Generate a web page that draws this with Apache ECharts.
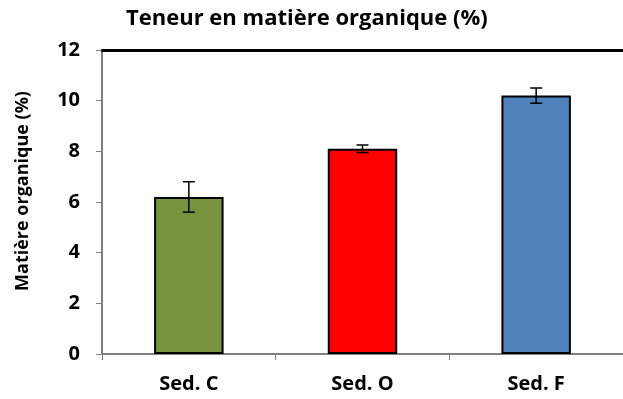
<!DOCTYPE html>
<html>
<head>
<meta charset="utf-8">
<script src="https://cdn.jsdelivr.net/npm/echarts@6/dist/echarts.min.js"></script>
<style>
  html, body { margin: 0; padding: 0; background: #fff; }
  #chart { width: 623px; height: 399px; }
</style>
</head>
<body>
<div id="chart"></div>
<script>
// Organic matter content per sediment, with standard deviations
const categories = ['Sed. C', 'Sed. O', 'Sed. F'];
const values = [6.2, 8.1, 10.2];
const errors = [0.6, 0.15, 0.3];
const barColors = ['#77933C', '#FF0000', '#4F81BD'];
const yTicks = { min: 0, max: 12, interval: 2 };

const FONT = '"Open Sans", "Liberation Sans", sans-serif';

const chart = echarts.init(document.getElementById('chart'));

const errorData = categories.map((c, i) => [i, values[i] - errors[i], values[i] + errors[i]]);

chart.setOption({
  animation: false,
  title: {
    text: 'Teneur en matière organique (%)',
    left: 121,
    top: 3,
    textStyle: { fontFamily: FONT, fontWeight: 'bold', fontSize: 22, color: '#000' }
  },
  grid: { left: 102, right: -8, top: 50, bottom: 45, containLabel: false },
  xAxis: [{
    type: 'category',
    data: categories,
    boundaryGap: true,
    axisLine: { lineStyle: { color: '#808080', width: 2 } },
    axisTick: { show: true, length: 6, lineStyle: { color: '#808080', width: 1 } },
    axisLabel: { margin: 20, color: '#000', fontFamily: FONT, fontWeight: 'bold', fontSize: 20 },
    splitLine: { show: false }
  }, {
    type: 'category',
    data: categories,
    position: 'top',
    axisLine: { lineStyle: { color: '#000', width: 3 } },
    axisTick: { show: false },
    axisLabel: { show: false }
  }],
  yAxis: {
    type: 'value',
    min: yTicks.min,
    max: yTicks.max,
    interval: yTicks.interval,
    name: 'Matière organique (%)',
    nameLocation: 'middle',
    nameGap: 70,
    nameTextStyle: { fontFamily: FONT, fontWeight: 'bold', fontSize: 18, color: '#000', padding: [0, 0, 0, 22] },
    axisLine: { show: true, lineStyle: { color: '#808080', width: 2 } },
    axisTick: { show: true, length: 6, lineStyle: { color: '#808080', width: 1 } },
    axisLabel: { margin: 22, color: '#000', fontFamily: FONT, fontWeight: 'bold', fontSize: 20 },
    splitLine: { show: false }
  },
  series: [{
    type: 'bar',
    data: values.map((v, i) => ({ value: v, itemStyle: { color: barColors[i] } })),
    barWidth: '40%',
    itemStyle: { borderColor: '#000', borderWidth: 2 },
    z: 2
  }, {
    type: 'custom',
    data: errorData,
    z: 3,
    renderItem: function (params, api) {
      const x = api.value(0);
      const lo = api.coord([x, api.value(1)]);
      const hi = api.coord([x, api.value(2)]);
      const half = 6;
      const style = { stroke: '#000', lineWidth: 1.5 };
      return {
        type: 'group',
        children: [
          { type: 'line', shape: { x1: lo[0], y1: lo[1], x2: hi[0], y2: hi[1] }, style: style },
          { type: 'line', shape: { x1: hi[0] - half, y1: hi[1], x2: hi[0] + half, y2: hi[1] }, style: style },
          { type: 'line', shape: { x1: lo[0] - half, y1: lo[1], x2: lo[0] + half, y2: lo[1] }, style: style }
        ]
      };
    }
  }]
});
</script>
</body>
</html>
